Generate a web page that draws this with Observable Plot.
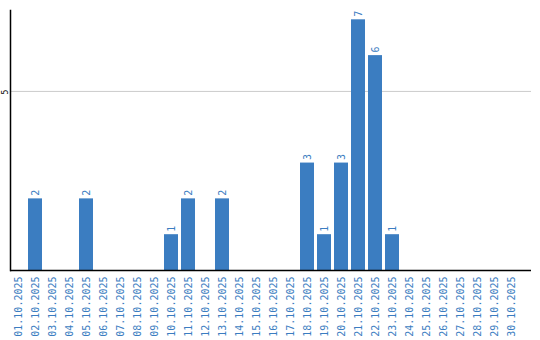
<!DOCTYPE html>
<html>
<head>
<meta charset="utf-8">
<script src="https://cdn.jsdelivr.net/npm/d3@7"></script>
<script src="https://cdn.jsdelivr.net/npm/@observablehq/plot@0.6"></script>
<style>
  html, body { margin: 0; padding: 0; background: #fff; }
</style>
</head>
<body>
<div id="chart"></div>
<script>
const dates = ["01.10.2025","02.10.2025","03.10.2025","04.10.2025","05.10.2025","06.10.2025","07.10.2025","08.10.2025","09.10.2025","10.10.2025","11.10.2025","12.10.2025","13.10.2025","14.10.2025","15.10.2025","16.10.2025","17.10.2025","18.10.2025","19.10.2025","20.10.2025","21.10.2025","22.10.2025","23.10.2025","24.10.2025","25.10.2025","26.10.2025","27.10.2025","28.10.2025","29.10.2025","30.10.2025"];
const counts = [0,2,0,0,2,0,0,0,0,1,2,0,2,0,0,0,0,3,1,3,7,6,1,0,0,0,0,0,0,0];
const yTicks = [5];

const data = dates.map((d, i) => ({date: d, value: counts[i]}));
const blue = "#3b7dc1";
const font = "DejaVu Sans Mono";

const chart = Plot.plot({
  width: 540,
  height: 340,
  marginTop: 10,
  marginBottom: 70,
  marginLeft: 10,
  marginRight: 9,
  style: {fontFamily: font, background: "#fff"},
  x: {domain: dates, range: [9.5, 519.5], paddingInner: 3/17, paddingOuter: 3/34, axis: null},
  y: {domain: [0, 7.26], axis: null},
  marks: [
    Plot.ruleY(yTicks, {stroke: "#cccccc", strokeWidth: 1}),
    Plot.barY(data, {x: "date", y: "value", fill: blue}),
    Plot.text(data.filter(d => d.value > 0), {x: "date", y: "value", text: d => String(d.value), rotate: -90, textAnchor: "start", dy: -3, fill: blue, fontSize: 10, fontFamily: font}),
    Plot.axisX({tickRotate: -90, tickSize: 0, tickPadding: 6, label: null, fill: blue, fontSize: 10, fontFamily: font}),
    Plot.text(yTicks, {y: d => d, text: d => String(d), frameAnchor: "left", dx: -5, dy: 3, rotate: -90, fill: "#000", fontSize: 8, fontFamily: font}),
    Plot.ruleY([0], {stroke: "#000", strokeWidth: 1.5}),
    Plot.frame({anchor: "left", stroke: "#000", strokeWidth: 1.5})
  ]
});
document.getElementById("chart").appendChild(chart);
</script>
</body>
</html>
